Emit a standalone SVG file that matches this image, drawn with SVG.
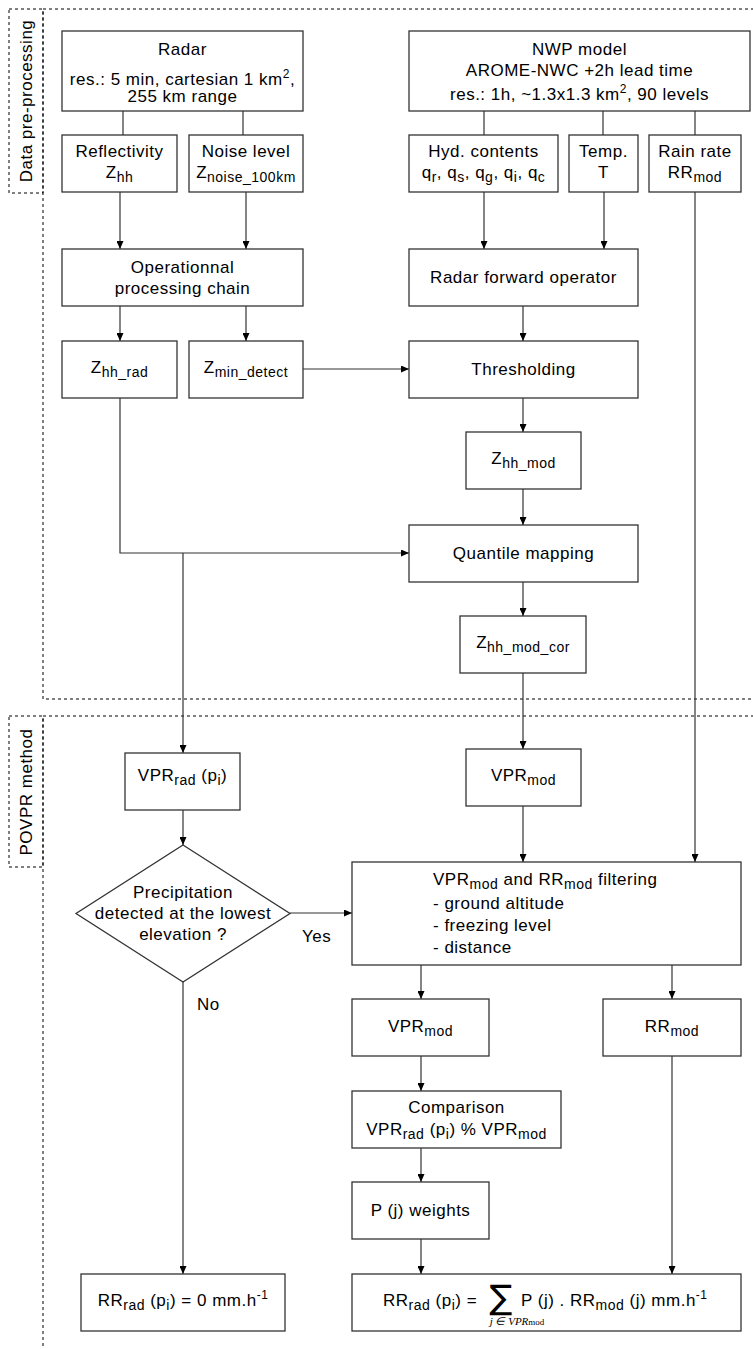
<svg xmlns="http://www.w3.org/2000/svg" width="753" height="1349" viewBox="0 0 753 1349">
<style>
.box{fill:#fff;stroke:#333;stroke-width:1.3}
.dash{fill:none;stroke:#000;stroke-width:1;stroke-dasharray:3 3}
.ln{fill:none;stroke:#333;stroke-width:1.2}
.t{font-family:"Liberation Sans",Arial,Helvetica,sans-serif;font-size:17px;letter-spacing:0.5px;fill:#000}
.c{text-anchor:middle}
.s{font-size:14px}
.sp{font-size:12px}
.m{font-family:"Liberation Serif","Times New Roman",serif;font-style:italic;font-size:11px;fill:#000}
</style>
<defs>
<marker id="ah" markerWidth="8" markerHeight="7" refX="8" refY="3.5" orient="auto" markerUnits="userSpaceOnUse">
<path d="M0,0 L8,3.5 L0,7 z" fill="#000"/>
</marker>
</defs>

<g id="section-preprocessing">
<path class="dash" d="M760,9 H43 V699 H760"/>
<rect class="dash" x="9" y="9" width="34" height="184"/>
<text class="t c" transform="translate(32,101) rotate(-90)">Data pre-processing</text>
</g>
<g id="section-povpr">
<path class="dash" d="M760,716 H43 V1360"/>
<rect class="dash" x="9" y="716" width="34" height="151"/>
<text class="t c" transform="translate(32,792) rotate(-90)">POVPR method</text>
</g>

<g id="connectors">
<path class="ln" d="M123,111 V135"/>
<path class="ln" d="M243,111 V135"/>
<path class="ln" d="M120,192 V249" marker-end="url(#ah)"/>
<path class="ln" d="M246,192 V249" marker-end="url(#ah)"/>
<path class="ln" d="M120,306 V341" marker-end="url(#ah)"/>
<path class="ln" d="M246,306 V341" marker-end="url(#ah)"/>
<path class="ln" d="M303,369 H409" marker-end="url(#ah)"/>
<path class="ln" d="M484,111 V135"/>
<path class="ln" d="M603,111 V135"/>
<path class="ln" d="M695,111 V135"/>
<path class="ln" d="M484,192 V249" marker-end="url(#ah)"/>
<path class="ln" d="M604,192 V249" marker-end="url(#ah)"/>
<path class="ln" d="M523,306 V341" marker-end="url(#ah)"/>
<path class="ln" d="M523,398 V432" marker-end="url(#ah)"/>
<path class="ln" d="M523,489 V525" marker-end="url(#ah)"/>
<path class="ln" d="M120,398 V553 H409" marker-end="url(#ah)"/>
<path class="ln" d="M183,553 V753" marker-end="url(#ah)"/>
<path class="ln" d="M523,582 V616" marker-end="url(#ah)"/>
<path class="ln" d="M523,673 V749" marker-end="url(#ah)"/>
<path class="ln" d="M695,192 V862" marker-end="url(#ah)"/>
<path class="ln" d="M523,806 V862" marker-end="url(#ah)"/>
<path class="ln" d="M183,810 V845" marker-end="url(#ah)"/>
<path class="ln" d="M290,913 H352" marker-end="url(#ah)"/>
<text class="t" x="302" y="942">Yes</text>
<path class="ln" d="M183,982 V1274" marker-end="url(#ah)"/>
<text class="t" x="197" y="1010">No</text>
<path class="ln" d="M421,965 V999" marker-end="url(#ah)"/>
<path class="ln" d="M672,965 V999" marker-end="url(#ah)"/>
<path class="ln" d="M421,1056 V1091" marker-end="url(#ah)"/>
<path class="ln" d="M421,1148 V1182" marker-end="url(#ah)"/>
<path class="ln" d="M421,1239 V1274" marker-end="url(#ah)"/>
<path class="ln" d="M672,1056 V1274" marker-end="url(#ah)"/>
</g>

<g id="radar">
<rect class="box" x="62" y="31" width="241" height="80"/>
<text class="t c" x="182.5" y="55">Radar</text>
<text class="t c" x="182.5" y="84.5">res.: 5 min, cartesian 1 km<tspan class="sp" dy="-7">2</tspan><tspan dy="7">,</tspan></text>
<text class="t c" x="182.5" y="102">255 km range</text>
</g>
<g id="reflectivity">
<rect class="box" x="62" y="135" width="115" height="57"/>
<text class="t c" x="119.5" y="157">Reflectivity</text>
<text class="t c" x="119.5" y="178">Z<tspan class="s" dy="4">hh</tspan></text>
</g>
<g id="noise-level">
<rect class="box" x="189" y="135" width="114" height="57"/>
<text class="t c" x="246" y="157">Noise level</text>
<text class="t c" x="246" y="178">Z<tspan class="s" dy="4">noise_100km</tspan></text>
</g>
<g id="operational-chain">
<rect class="box" x="62" y="249" width="241" height="57"/>
<text class="t c" x="182.5" y="272.5">Operationnal</text>
<text class="t c" x="182.5" y="294">processing chain</text>
</g>
<g id="zhh-rad">
<rect class="box" x="62" y="341" width="115" height="57"/>
<text class="t c" x="119.5" y="373">Z<tspan class="s" dy="4">hh_rad</tspan></text>
</g>
<g id="zmin-detect">
<rect class="box" x="189" y="341" width="114" height="57"/>
<text class="t c" x="246" y="373">Z<tspan class="s" dy="4">min_detect</tspan></text>
</g>
<g id="nwp-model">
<rect class="box" x="409" y="31" width="341" height="80"/>
<text class="t c" x="579.5" y="54.5">NWP model</text>
<text class="t c" x="579.5" y="76">AROME-NWC +2h lead time</text>
<text class="t c" x="579.5" y="100">res.: 1h, ~1.3x1.3 km<tspan class="sp" dy="-7">2</tspan><tspan dy="7">, 90 levels</tspan></text>
</g>
<g id="hyd-contents">
<rect class="box" x="409" y="135" width="149" height="57"/>
<text class="t c" x="483.5" y="157">Hyd. contents</text>
<text class="t c" x="483.5" y="178">q<tspan class="s" dy="4">r</tspan><tspan dy="-4">, q</tspan><tspan class="s" dy="4">s</tspan><tspan dy="-4">, q</tspan><tspan class="s" dy="4">g</tspan><tspan dy="-4">, q</tspan><tspan class="s" dy="4">i</tspan><tspan dy="-4">, q</tspan><tspan class="s" dy="4">c</tspan></text>
</g>
<g id="temperature">
<rect class="box" x="569" y="135" width="69" height="57"/>
<text class="t c" x="603.5" y="157">Temp.</text>
<text class="t c" x="603.5" y="178">T</text>
</g>
<g id="rain-rate">
<rect class="box" x="649" y="135" width="92" height="57"/>
<text class="t c" x="695" y="157">Rain rate</text>
<text class="t c" x="695" y="178">RR<tspan class="s" dy="4">mod</tspan></text>
</g>
<g id="radar-forward-operator">
<rect class="box" x="409" y="249" width="229" height="57"/>
<text class="t c" x="523.5" y="283">Radar forward operator</text>
</g>
<g id="thresholding">
<rect class="box" x="409" y="341" width="229" height="57"/>
<text class="t c" x="523.5" y="375">Thresholding</text>
</g>
<g id="zhh-mod">
<rect class="box" x="466" y="432" width="115" height="57"/>
<text class="t c" x="523.5" y="464">Z<tspan class="s" dy="4">hh_mod</tspan></text>
</g>
<g id="quantile-mapping">
<rect class="box" x="409" y="525" width="229" height="57"/>
<text class="t c" x="523.5" y="559">Quantile mapping</text>
</g>
<g id="zhh-mod-cor">
<rect class="box" x="460" y="616" width="126" height="57"/>
<text class="t c" x="523" y="648">Z<tspan class="s" dy="4">hh_mod_cor</tspan></text>
</g>
<g id="vpr-rad">
<rect class="box" x="125" y="753" width="115" height="57"/>
<text class="t c" x="182.5" y="781">VPR<tspan class="s" dy="4">rad</tspan><tspan dy="-4"> (p</tspan><tspan class="s" dy="4">i</tspan><tspan dy="-4">)</tspan></text>
</g>
<g id="vpr-mod">
<rect class="box" x="466" y="749" width="115" height="57"/>
<text class="t c" x="523.5" y="781">VPR<tspan class="s" dy="4">mod</tspan></text>
</g>
<g id="decision">
<polygon class="box" points="183,845 290,913.5 183,982 76,913.5"/>
<text class="t c" x="183" y="898">Precipitation</text>
<text class="t c" x="183" y="919">detected at the lowest</text>
<text class="t c" x="183" y="940">elevation ?</text>
</g>
<g id="filtering">
<rect class="box" x="352" y="862" width="389" height="103"/>
<text class="t" x="433" y="885">VPR<tspan class="s" dy="4">mod</tspan><tspan dy="-4"> and RR</tspan><tspan class="s" dy="4">mod</tspan><tspan dy="-4"> filtering</tspan></text>
<text class="t" x="433" y="909">- ground altitude</text>
<text class="t" x="433" y="931">- freezing level</text>
<text class="t" x="433" y="953">- distance</text>
</g>
<g id="vpr-mod-filtered">
<rect class="box" x="352" y="999" width="137" height="57"/>
<text class="t c" x="420.5" y="1032">VPR<tspan class="s" dy="4">mod</tspan></text>
</g>
<g id="rr-mod-filtered">
<rect class="box" x="603" y="999" width="138" height="57"/>
<text class="t c" x="672" y="1032">RR<tspan class="s" dy="4">mod</tspan></text>
</g>
<g id="comparison">
<rect class="box" x="352" y="1091" width="209" height="57"/>
<text class="t c" x="456.5" y="1113">Comparison</text>
<text class="t c" x="456.5" y="1135">VPR<tspan class="s" dy="4">rad</tspan><tspan dy="-4"> (p</tspan><tspan class="s" dy="4">i</tspan><tspan dy="-4">) % VPR</tspan><tspan class="s" dy="4">mod</tspan></text>
</g>
<g id="weights">
<rect class="box" x="352" y="1182" width="137" height="57"/>
<text class="t c" x="420.5" y="1216">P (j) weights</text>
</g>
<g id="rr-rad-zero">
<rect class="box" x="81" y="1274" width="204" height="57"/>
<text class="t c" x="183" y="1306">RR<tspan class="s" dy="4">rad</tspan><tspan dy="-4"> (p</tspan><tspan class="s" dy="4">i</tspan><tspan dy="-4">) = 0 mm.h</tspan><tspan class="sp" dy="-7">-1</tspan></text>
</g>
<g id="rr-rad-formula">
<rect class="box" x="352" y="1274" width="389" height="57"/>
<text class="t" x="383" y="1306">RR<tspan class="s" dy="4">rad</tspan><tspan dy="-4"> (p</tspan><tspan class="s" dy="4">i</tspan><tspan dy="-4">) =</tspan></text>
<text x="501" y="1309" style="font-family:'DejaVu Sans',sans-serif;font-size:34px;text-anchor:middle;fill:#000">∑</text>
<text class="m" x="517" y="1325" style="text-anchor:middle">j ∈ VPR<tspan style="font-style:normal;font-size:9px">mod</tspan></text>
<text class="t" x="521" y="1306">P (j) . RR<tspan class="s" dy="4">mod</tspan><tspan dy="-4"> (j) mm.h</tspan><tspan class="sp" dy="-7">-1</tspan></text>
</g>
</svg>
